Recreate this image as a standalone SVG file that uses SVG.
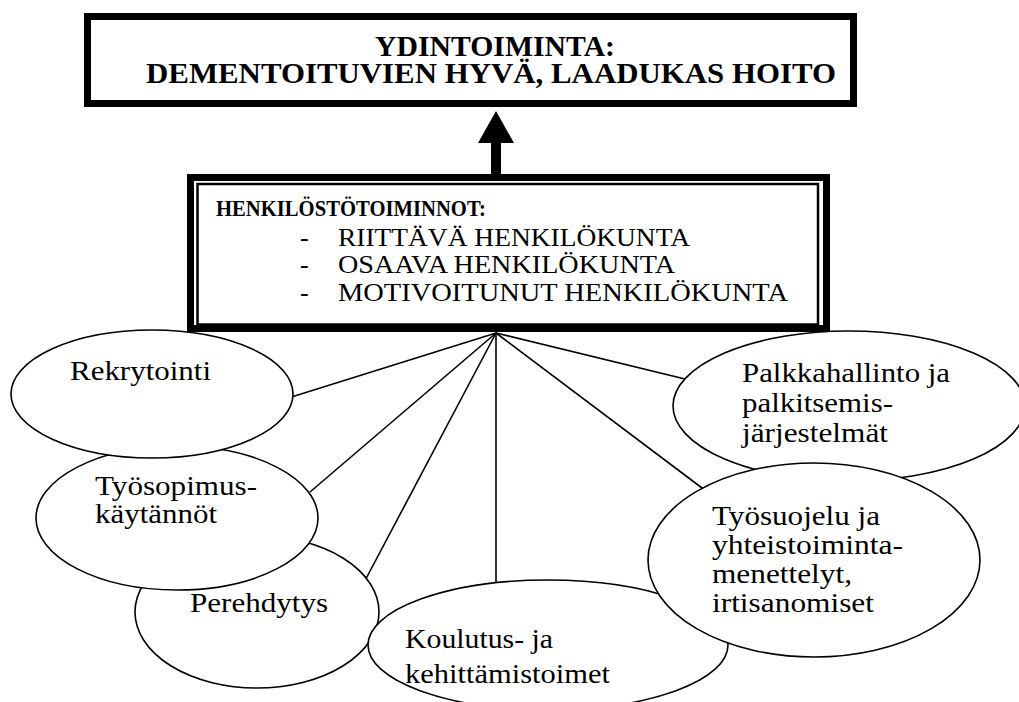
<svg xmlns="http://www.w3.org/2000/svg" width="1019" height="702" viewBox="0 0 1019 702" font-family="Liberation Serif, DejaVu Serif, serif">
  <style>
    text { font-family: "Liberation Serif", "DejaVu Serif", serif; fill: #000; }
    .bold { font-weight: bold; }
    .bubble { fill: #fff; stroke: #000; stroke-width: 1.6; }
    .link { stroke: #000; stroke-width: 1.6; fill: none; }
    .item { font-size: 26px; }
    .label { font-size: 28px; }
  </style>
  <rect width="1019" height="702" fill="#fff"/>

  <!-- core activity box -->
  <g id="core">
    <rect x="87.5" y="16.5" width="766" height="87" fill="#fff" stroke="#000" stroke-width="7"/>
    <text class="bold" x="375" y="56" font-size="29" textLength="240" lengthAdjust="spacingAndGlyphs">YDINTOIMINTA:</text>
    <text class="bold" x="146" y="83" font-size="29" textLength="690" lengthAdjust="spacingAndGlyphs">DEMENTOITUVIEN HYVÄ, LAADUKAS HOITO</text>
  </g>

  <!-- upward arrow -->
  <g id="arrow">
    <polygon points="496,111 478,143 514,143" fill="#000"/>
    <rect x="491" y="142" width="10" height="33" fill="#000"/>
  </g>

  <!-- staff functions box: thick outer frame with thin inner frame -->
  <g id="staff">
    <rect x="190.5" y="177.5" width="636" height="151" fill="#fff" stroke="#000" stroke-width="7"/>
    <rect x="197.5" y="184" width="620.5" height="140.5" fill="none" stroke="#000" stroke-width="2.5"/>
    <text class="bold" x="216" y="216" font-size="23" textLength="270" lengthAdjust="spacingAndGlyphs">HENKILÖSTÖTOIMINNOT:</text>
    <text class="item" x="300" y="246">-</text>
    <text class="item" x="338" y="246" textLength="352" lengthAdjust="spacingAndGlyphs">RIITTÄVÄ HENKILÖKUNTA</text>
    <text class="item" x="300" y="273">-</text>
    <text class="item" x="338" y="273" textLength="337" lengthAdjust="spacingAndGlyphs">OSAAVA HENKILÖKUNTA</text>
    <text class="item" x="300" y="301">-</text>
    <text class="item" x="338" y="301" textLength="450" lengthAdjust="spacingAndGlyphs">MOTIVOITUNUT HENKILÖKUNTA</text>
  </g>

  <!-- connectors fanning out from the bottom of the staff box -->
  <g id="connectors">
    <line class="link" x1="496" y1="333" x2="285" y2="399"/>
    <line class="link" x1="496" y1="333" x2="310" y2="492"/>
    <line class="link" x1="496" y1="333" x2="360" y2="590"/>
    <line class="link" x1="496" y1="333" x2="496" y2="600"/>
    <line class="link" x1="496" y1="333" x2="710" y2="494"/>
    <line class="link" x1="496" y1="333" x2="685" y2="379"/>
  </g>

  <g id="perehdytys">
    <ellipse class="bubble" cx="257" cy="612" rx="122" ry="76"/>
    <text class="label" x="190" y="612" textLength="138" lengthAdjust="spacingAndGlyphs">Perehdytys</text>
  </g>

  <g id="tyosopimus">
    <ellipse class="bubble" cx="177" cy="518" rx="141" ry="72"/>
    <text class="label" x="95" y="495" textLength="162" lengthAdjust="spacingAndGlyphs">Työsopimus-</text>
    <text class="label" x="95" y="523" textLength="122" lengthAdjust="spacingAndGlyphs">käytännöt</text>
  </g>

  <g id="rekrytointi">
    <ellipse class="bubble" cx="152" cy="394" rx="141" ry="64"/>
    <text class="label" x="70" y="380" textLength="141" lengthAdjust="spacingAndGlyphs">Rekrytointi</text>
  </g>

  <g id="koulutus">
    <ellipse class="bubble" cx="548" cy="645" rx="180" ry="65"/>
    <text class="label" x="405" y="648" textLength="148" lengthAdjust="spacingAndGlyphs">Koulutus- ja</text>
    <text class="label" x="405" y="683" textLength="205" lengthAdjust="spacingAndGlyphs">kehittämistoimet</text>
  </g>

  <g id="palkka">
    <ellipse class="bubble" cx="849" cy="406" rx="176" ry="75"/>
    <text class="label" x="742" y="382" textLength="208" lengthAdjust="spacingAndGlyphs">Palkkahallinto ja</text>
    <text class="label" x="742" y="412" textLength="151" lengthAdjust="spacingAndGlyphs">palkitsemis-</text>
    <text class="label" x="742" y="442" textLength="146" lengthAdjust="spacingAndGlyphs">järjestelmät</text>
  </g>

  <g id="tyosuojelu">
    <ellipse class="bubble" cx="814" cy="560" rx="166" ry="97"/>
    <text class="label" x="712" y="525" textLength="168" lengthAdjust="spacingAndGlyphs">Työsuojelu ja</text>
    <text class="label" x="712" y="554" textLength="191" lengthAdjust="spacingAndGlyphs">yhteistoiminta-</text>
    <text class="label" x="712" y="583" textLength="140" lengthAdjust="spacingAndGlyphs">menettelyt,</text>
    <text class="label" x="712" y="612" textLength="162" lengthAdjust="spacingAndGlyphs">irtisanomiset</text>
  </g>
</svg>
